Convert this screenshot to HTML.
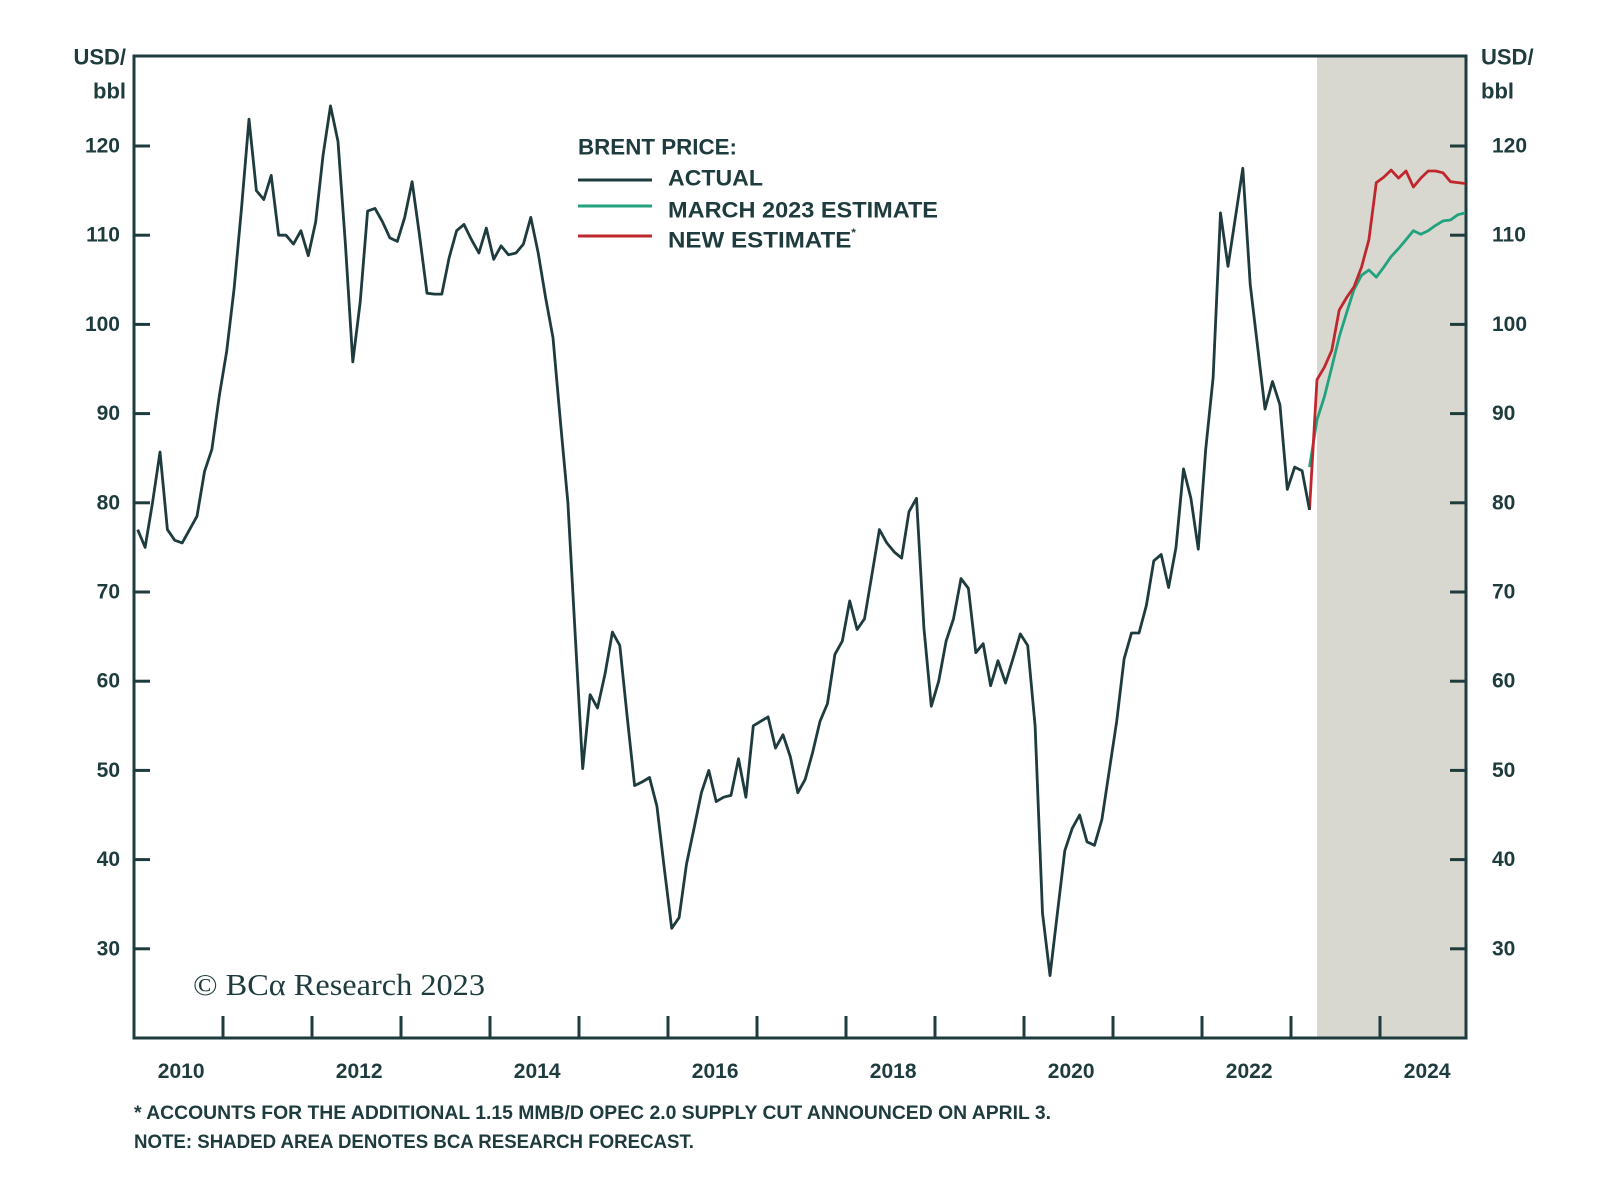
<!DOCTYPE html>
<html><head><meta charset="utf-8"><style>
html,body{margin:0;padding:0;background:#fff;}
svg{display:block;font-family:"Liberation Sans",sans-serif;}
.t{fill:#1e3b3d;font-weight:bold;}
</style></head><body>
<svg id="chart" width="1600" height="1182" viewBox="0 0 1600 1182">
<rect x="1317" y="56" width="149" height="982" fill="#d8d8d0"/>
<g id="axes"></g>
<g id="series"></g>
<g>
<text class="t" x="578" y="147" font-size="22" dominant-baseline="central" textLength="159" lengthAdjust="spacingAndGlyphs">BRENT PRICE:</text>
<line x1="578" x2="652" y1="180" y2="180" stroke="#1e3b3d" stroke-width="3"/>
<text class="t" x="668" y="178" font-size="22" dominant-baseline="central" textLength="95" lengthAdjust="spacingAndGlyphs">ACTUAL</text>
<line x1="578" x2="652" y1="206" y2="206" stroke="#22a27e" stroke-width="3"/>
<text class="t" x="668" y="210" font-size="22" dominant-baseline="central" textLength="270" lengthAdjust="spacingAndGlyphs">MARCH 2023 ESTIMATE</text>
<line x1="578" x2="652" y1="236" y2="236" stroke="#c0272d" stroke-width="3"/>
<text class="t" x="668" y="240" font-size="22" dominant-baseline="central" textLength="188" lengthAdjust="spacingAndGlyphs">NEW ESTIMATE<tspan font-size="11" dy="-7">*</tspan></text>
</g>
<text x="193" y="995" font-family="'Liberation Serif',serif" font-size="31" fill="#1e3b3d" textLength="292" lengthAdjust="spacingAndGlyphs">© BCα Research 2023</text>
<text class="t" x="134" y="1119" font-size="19" textLength="917" lengthAdjust="spacingAndGlyphs">* ACCOUNTS FOR THE ADDITIONAL 1.15 MMB/D OPEC 2.0 SUPPLY CUT ANNOUNCED ON APRIL 3.</text>
<text class="t" x="134" y="1148" font-size="19" textLength="560" lengthAdjust="spacingAndGlyphs">NOTE: SHADED AREA DENOTES BCA RESEARCH FORECAST.</text>
</svg>
<script>
const actualValues = [
77,75,80,85.7,77,75.8,75.5,77,78.5,83.5,86,92,
97,104,113,123,115,114,116.7,110,110,109,110.5,107.7,
111.5,119,124.5,120.5,109,95.8,102.5,112.7,113,111.5,109.7,109.3,
112,116,110,103.5,103.4,103.4,107.5,110.5,111.2,109.5,108,110.8,
107.3,108.8,107.8,108,109,112,108,103,98.5,89,80,65,
50.2,58.5,57,60.8,65.5,64,56,48.3,48.7,49.2,46,39,
32.3,33.5,39.5,43.5,47.5,50,46.5,47,47.2,51.3,47,55,
55.5,56,52.5,54,51.5,47.5,49,52,55.5,57.5,63,64.5,
69,65.8,67,72,77,75.5,74.5,73.8,79,80.5,66,57.2,
60,64.5,67,71.5,70.4,63.2,64.2,59.5,62.3,59.8,62.5,65.3,
64,55,34,27,34,41,43.5,45,42,41.6,44.5,50,
55.5,62.5,65.4,65.4,68.5,73.5,74.2,70.5,75,83.8,80.5,74.8,
86,94,112.5,106.5,112,117.5,104.5,97.5,90.5,93.6,91,81.5,
84,83.6,79.2];
const marchEstimate = [84,89.3,91.9,95.2,98.6,101.3,103.9,105.5,106.1,105.3,106.4,107.6,108.5,109.5,110.5,110.1,110.5,111.1,111.6,111.7,112.3,112.5];
const newEstimate = [79.2,93.8,95.2,97.1,101.6,103,104.2,106.4,109.5,115.9,116.5,117.3,116.4,117.2,115.4,116.4,117.2,117.2,117,116,115.9,115.8];
const estimateStartMonth = 158; // Mar 2023 (months since Jan 2010)
const yTicks = [30,40,50,60,70,80,90,100,110,120];
const yearLabels = [2010,2012,2014,2016,2018,2020,2022,2024];
const yearTicks = [2011,2012,2013,2014,2015,2016,2017,2018,2019,2020,2021,2022,2023,2024];

const X0=134, X1=1466, Y0=56, Y1=1038;
const xYear = t => X0 + (t-2010)*89;
const xMonth = i => xYear(2010 + (i+0.5)/12);
const yVal = v => 146 + (120-v)*8.92;
const NS='http://www.w3.org/2000/svg';
const C='#1e3b3d';
function mk(tag, attrs, parent){const e=document.createElementNS(NS,tag);for(const k in attrs)e.setAttribute(k,attrs[k]);parent.appendChild(e);return e;}
const axes=document.getElementById('axes'), series=document.getElementById('series');

yTicks.forEach(v=>{
  const y=yVal(v);
  let l=mk('line',{x1:X0,x2:X0+16,y1:y,y2:y,stroke:C,'stroke-width':3},axes);
  
  
  l=mk('line',{x1:X1-16,x2:X1,y1:y,y2:y,stroke:C,'stroke-width':3},axes);
  
  
  let t=mk('text',{x:120,y:y,'text-anchor':'end','dominant-baseline':'central','font-size':21,class:'t'},axes);
  t.textContent=v;
  
  
  t=mk('text',{x:1492,y:y,'dominant-baseline':'central','font-size':21,class:'t'},axes);
  t.textContent=v;
  
  
});
yearTicks.forEach(yr=>{
  const x=xYear(yr);
  const l=mk('line',{x1:x,x2:x,y1:Y1-22,y2:Y1,stroke:C,'stroke-width':3},axes);
  
  
});
yearLabels.forEach(yr=>{
  const t=mk('text',{x:xYear(yr+0.53),y:1078,'text-anchor':'middle','font-size':21,class:'t'},axes);
  t.textContent=yr;
  
  
});
const frame=mk('rect',{x:X0,y:Y0,width:X1-X0,height:Y1-Y0,fill:'none',stroke:C,'stroke-width':3},axes);


[['USD/',57],['bbl',91]].forEach(([s,y],i)=>{
  let t=mk('text',{x:126,y:y,'text-anchor':'end','dominant-baseline':'central','font-size':22,class:'t'},axes);
  t.textContent=s;
  
  
  t=mk('text',{x:1481,y:y,'dominant-baseline':'central','font-size':22,class:'t'},axes);
  t.textContent=s;
  
  
});
function line(vals, start, color, name){
  const pts=vals.map((v,i)=>xMonth(start+i).toFixed(1)+','+yVal(v).toFixed(1)).join(' ');
  const p=mk('polyline',{points:pts,fill:'none',stroke:color,'stroke-width':2.8,'stroke-linejoin':'round'},series);
  
  
}
line(marchEstimate, estimateStartMonth, '#22a27e', 'march-2023-estimate-line');
line(newEstimate, estimateStartMonth, '#c0272d', 'new-estimate-line');
line(actualValues, 0, C, 'actual-price-line');
</script>
</body></html>
